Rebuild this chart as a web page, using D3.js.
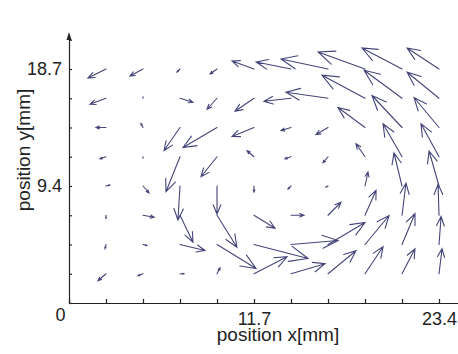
<!DOCTYPE html>
<html>
<head>
<meta charset="utf-8">
<script src="https://cdn.jsdelivr.net/npm/d3@7"></script>
<style>
  html, body { margin: 0; padding: 0; background: #fff; }
  svg { display: block; }
  .axis text { font-family: 'Liberation Sans', Arial, sans-serif; font-size: 18px; fill: #222; }
  .axis path, .axis line { stroke: #222; stroke-width: 1.2; }
  .title { font-family: 'Liberation Sans', Arial, sans-serif; font-size: 19px; fill: #222; }
</style>
</head>
<body>
<div id="chart"></div>
<script>
// grid of measuring points [mm]
const xGrid = [2.34, 4.68, 7.02, 9.36, 11.7, 14.04, 16.38, 18.72, 21.06, 23.4];
const yGrid = [2.34, 4.68, 7.02, 9.36, 11.7, 14.04, 16.38, 18.72];

// displacement components [mm], one row per yGrid value (bottom to top)
const uRows = [
  [-0.51, -0.32, 0.25, 0.19, 2.09, 2.15, 1.77, 1.14, 0.82, 0.19],
  [-0.06, 0.25, 1.58, 2.47, 3.42, 2.97, 2.34, 1.52, 0.82, 0.13],
  [0, 0.70, 0.82, 1.26, 1.33, 0.82, 0.82, 0.70, 0.25, -0.06],
  [0.25, 0.38, -0.13, 0, 0, -0.19, -0.13, 0.19, -0.51, -0.63],
  [-0.38, 0, -0.89, -1.01, -0.44, -0.38, -0.32, -0.57, -1.20, -1.14],
  [-0.63, -0.13, -1.01, -2.15, -1.39, -0.63, -0.76, -1.71, -1.90, -1.58],
  [-1.01, 0, 0.82, -0.63, -1.20, -1.71, -2.66, -2.72, -2.40, -2.02],
  [-1.14, -0.82, -0.19, -0.44, -1.39, -2.21, -2.97, -2.97, -2.53, -2.02]
];
const vRows = [
  [-0.56, -0.16, 0, 0.48, 1.36, 0.80, 1.84, 2.16, 2.00, 2.00],
  [-0.32, -0.08, -0.48, -1.92, -1.12, 0.32, 1.76, 2.32, 2.48, 2.24],
  [-0.24, -0.16, -2.16, -2.56, -1.04, 0, 1.04, 2.00, 2.56, 2.48],
  [0.08, -0.56, -2.72, -2.24, -0.48, -0.24, -0.08, 1.12, 2.64, 2.80],
  [-0.16, -0.08, -2.80, -1.60, 0.48, -0.16, -0.48, 1.04, 2.64, 2.64],
  [0, 0.32, -1.84, -1.60, -0.72, -0.24, -0.56, 1.60, 2.56, 2.40],
  [-0.48, 0.08, -0.32, -0.88, -1.04, -0.24, 0.48, 1.84, 2.24, 2.08],
  [-0.72, -0.56, -0.24, -0.40, 0.64, 0.56, 0.80, 1.36, 1.68, 1.68]
];

// axis ticks
const xTickValues = [0, 2.34, 4.68, 7.02, 9.36, 11.7, 14.04, 16.38, 18.72, 21.06, 23.4];
const xTickLabels = ['0', '', '', '', '', '11.7', '', '', '', '', '23.4'];
const yTickValues = [0, 2.34, 4.68, 7.02, 9.36, 11.7, 14.04, 16.38, 18.72, 21.06];
const yTickLabels = ['', '', '', '', '9.4', '', '', '', '18.7', ''];

const width = 458, height = 354;

const svg = d3.select('#chart').append('svg')
  .attr('width', width)
  .attr('height', height);

const x = d3.scaleLinear().domain([0, 24.6]).range([69, 458]);
const y = d3.scaleLinear().domain([0, 21.44]).range([303, 35]);

// arrows (quiver style: shaft + open head)
const arrows = [];
yGrid.forEach((yv, i) => {
  xGrid.forEach((xv, j) => {
    arrows.push({x: xv, y: yv, u: uRows[i][j], v: vRows[i][j]});
  });
});

const alpha = 0.33, beta = 0.42;
function arrowPath(d) {
  const x0 = x(d.x), y0 = y(d.y);
  const x1 = x(d.x + d.u), y1 = y(d.y + d.v);
  const dx = x1 - x0, dy = y1 - y0;
  if (Math.hypot(dx, dy) < 0.5) return `M${x0},${y0}l0.6,0`;
  const ax = x1 - alpha * (dx + beta * dy), ay = y1 - alpha * (dy - beta * dx);
  const bx = x1 - alpha * (dx - beta * dy), by = y1 - alpha * (dy + beta * dx);
  return `M${x0},${y0}L${x1},${y1}M${ax},${ay}L${x1},${y1}L${bx},${by}`;
}

svg.append('g')
  .selectAll('path')
  .data(arrows)
  .enter().append('path')
    .attr('d', arrowPath)
    .attr('fill', 'none')
    .attr('stroke', '#45457a')
    .attr('stroke-width', 1.1)
    .attr('stroke-linecap', 'round');

// x axis
const xAxis = svg.append('g')
  .attr('class', 'axis')
  .attr('transform', 'translate(0,303)')
  .call(d3.axisBottom(x)
    .tickValues(xTickValues)
    .tickSize(-4)
    .tickSizeOuter(0)
    .tickPadding(9)
    .tickFormat((d, i) => xTickLabels[i]));
xAxis.selectAll('.tick text')
  .filter((d, i) => i === 0)
  .attr('dx', -9)
  .attr('y', 5);

// y axis
svg.append('g')
  .attr('class', 'axis')
  .attr('transform', 'translate(69,0)')
  .call(d3.axisLeft(y)
    .tickValues(yTickValues)
    .tickSize(-3)
    .tickSizeOuter(0)
    .tickPadding(7)
    .tickFormat((d, i) => yTickLabels[i]));

// small arrow head on top of y axis
svg.append('path')
  .attr('d', 'M69,32L66.5,40L71.5,40Z')
  .attr('fill', '#222');

svg.append('text')
  .attr('class', 'title')
  .attr('x', 278)
  .attr('y', 341)
  .attr('text-anchor', 'middle')
  .text('position x[mm]');

svg.append('text')
  .attr('class', 'title')
  .attr('transform', 'translate(29.5,150) rotate(-90)')
  .attr('text-anchor', 'middle')
  .text('position y[mm]');
</script>
</body>
</html>
